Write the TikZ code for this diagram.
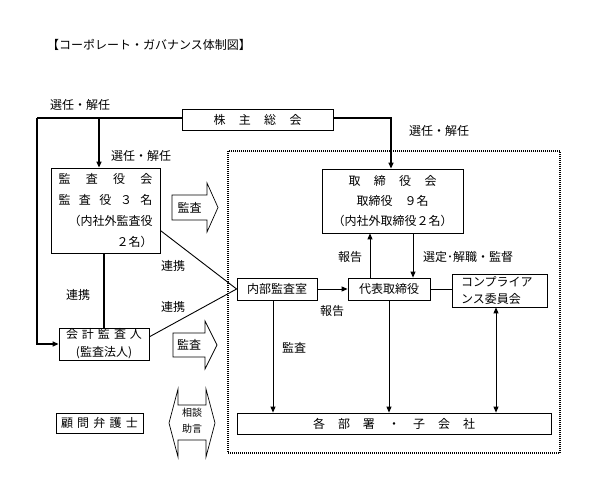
\documentclass[tikz,border=0pt]{standalone}
\usepackage{fontspec}
\setmainfont{Noto Sans CJK JP}
\usetikzlibrary{arrows.meta}
\newcommand{\fsmain}{\fontsize{12}{14}\selectfont}
\begin{document}
\begin{tikzpicture}[x=1pt,y=-1pt,
  every node/.style={font=\fsmain,inner sep=0pt},
  box/.style={draw,line width=0.8pt,fill=white,align=center},
  lbl/.style={font=\fsmain},
  thick line/.style={line width=1.3pt},
  conn/.style={line width=0.9pt},
  arr/.style={conn,-{Triangle[length=6pt,width=5pt]}},
  darr/.style={conn,{Triangle[length=6pt,width=5pt]}-{Triangle[length=6pt,width=5pt]}},
  blockarrow/.style={draw,line width=0.7pt,fill=white},
  dottedframe/.style={line width=1.3pt,dash pattern=on 1pt off 1pt}]
\useasboundingbox[fill=white] (0,0) rectangle (593,487);

% title
\node[anchor=west] (title) at (47,45) {【コーポレート・ガバナンス体制図】};

% dotted frame
\draw[dottedframe] (228,151) rectangle (560,453);

% boxes
\node[box,minimum width=151pt,minimum height=21pt] (kabu) at (257.5,119.5)
  {\makebox[88pt][s]{株\hfill 主\hfill 総\hfill 会}};
\node[box,minimum width=109pt,minimum height=85pt,font=\fontsize{12}{21}\selectfont] (kansa) at (105.5,210.5)
  {\makebox[94pt][s]{監\hfill 査\hfill 役\hfill 会}\\
   \makebox[94pt][s]{監\hfill 査\hfill 役\hfill ３\hfill 名}\\
   \makebox[94pt][r]{（内社外監査役}\\
   \makebox[94pt][r]{２名）}};
\node[box,minimum width=141pt,minimum height=64pt,font=\fontsize{12}{20}\selectfont] (tori) at (392.5,201)
  {\makebox[88pt][s]{取\hfill 締\hfill 役\hfill 会}\\
   取締役　９名\\
   （内社外取締役２名）};
\node[box,minimum width=90pt,minimum height=32pt,font=\fontsize{12}{18}\selectfont] (kaikei) at (104,344)
  {\makebox[76pt][s]{会\hfill 計\hfill 監\hfill 査\hfill 人}\\
   (監査法人)};
\node[box,minimum width=80pt,minimum height=22pt] (naibu) at (277,289) {内部監査室};
\node[box,minimum width=82pt,minimum height=22pt] (daihyo) at (389,289) {代表取締役};
\node[box,minimum width=95pt,minimum height=33pt,align=left,font=\fontsize{12}{17}\selectfont] (comp) at (499.5,290.5)
  {\makebox[77pt][l]{コンプライア}\\\makebox[77pt][l]{ンス委員会}};
\node[box,minimum width=314pt,minimum height=21pt] (kakubu) at (394,423.5)
  {\makebox[162pt][s]{各\hfill 部\hfill 署\hfill ・\hfill 子\hfill 会\hfill 社}};
\node[box,minimum width=87pt,minimum height=20pt] (komon) at (99.5,423)
  {\makebox[77pt][s]{顧\hfill 問\hfill 弁\hfill 護\hfill 士}};

% helper coordinates
\coordinate (c1) at (37,118);
\coordinate (c2) at (99,118);
\coordinate (c3) at (391,118);
\coordinate (xa) at (370,0);
\coordinate (xb) at (413,0);
\coordinate (xc) at (273,0);
\coordinate (xd) at (496,0);

% connectors from shareholders meeting
\draw[thick line] (kabu.west |- c1) -- (c1);
\draw[thick line,-{Triangle[length=6pt,width=5pt]}] (c1) |- (kaikei.west);
\draw[thick line,-{Triangle[length=6pt,width=5pt]}] (c2) -- (c2 |- kansa.north);
\draw[thick line,-{Triangle[length=6pt,width=5pt]}] (kabu.east |- c3) -- (c3) -- (c3 |- tori.north);

% auditors
\draw[thick line] (kaikei.north) -- (kaikei.north |- kansa.south);
\draw[conn] (kansa.-20) -- (naibu.west);
\draw[conn] (kaikei.9) -- (naibu.west);

% board / representative
\draw[arr] (xa |- daihyo.north) -- (xa |- tori.south);
\draw[arr] (xb |- tori.south) -- (xb |- daihyo.north);
\draw[arr] (naibu.east) -- (daihyo.west);
\draw[conn] (daihyo.east) -- (daihyo.east -| comp.west);

% down to departments
\draw[arr] (xc |- naibu.south) -- (xc |- kakubu.north);
\draw[arr] (daihyo.south) -- (daihyo.south |- kakubu.north);
\draw[darr] (xd |- comp.south) -- (xd |- kakubu.north);

% block arrows
\draw[blockarrow] (172,195) -- (207,195) -- (207,183) -- (218,207.5) -- (207,232) -- (207,220) -- (172,220) -- cycle;
\node (ba1) at (189.5,207.5) {監査};
\draw[blockarrow] (173,333) -- (205,333) -- (205,321) -- (217,345) -- (205,369) -- (205,357) -- (173,357) -- cycle;
\node (ba2) at (189,345) {監査};
\draw[blockarrow] (169,423) -- (178,389) -- (178,405) -- (206,405) -- (206,389) -- (215,423) -- (206,457) -- (206,440) -- (178,440) -- (178,457) -- cycle;
\node[font=\fontsize{10}{16}\selectfont,align=center] (ba3) at (192,421) {相談\\助言};

% labels
\node[lbl] (l1) at (80,105) {選任・解任};
\node[lbl] (l2) at (141,156) {選任・解任};
\node[lbl] (l3) at (439,131) {選任・解任};
\node[lbl] (l4) at (173,266) {連携};
\node[lbl] (l5) at (173,307) {連携};
\node[lbl] (l6) at (78,295) {連携};
\node[lbl] (l7) at (350,257) {報告};
\node[lbl] (l8) at (468,257) {選定･解職・監督};
\node[lbl] (l9) at (332,311) {報告};
\node[lbl] (l10) at (294,348) {監査};
\end{tikzpicture}
\end{document}
